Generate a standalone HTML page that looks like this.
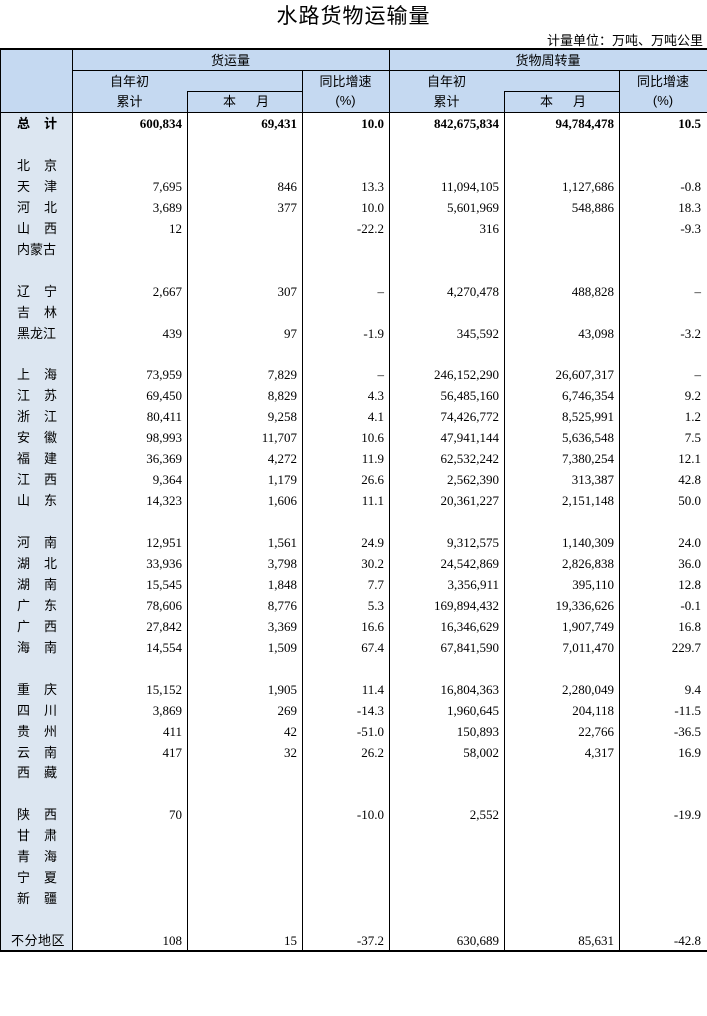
<!DOCTYPE html>
<html><head><meta charset="utf-8">
<style>
*{margin:0;padding:0;box-sizing:border-box}
html,body{width:707px;height:1016px;background:#fff;overflow:hidden}
body{position:relative;font-family:"Liberation Sans","Noto Sans CJK SC",sans-serif;color:#000}
.abs{position:absolute}
.hbg{position:absolute;background:#c5d9f1}
.cbg{position:absolute;background:#dce6f1}
.ln{position:absolute;background:#000}
.t{position:absolute;font-size:13px;line-height:20px;white-space:nowrap;font-family:"Liberation Sans","Noto Sans CJK SC",sans-serif}
.ctr{text-align:center}
.r{position:absolute;left:0;width:707px;height:21px;line-height:21px;font-size:13px}
.r span{position:absolute;top:0;white-space:nowrap}
.r .a{left:17px;font-family:"Liberation Sans","Noto Sans CJK SC",sans-serif}
.r .b{left:44px;font-family:"Liberation Sans","Noto Sans CJK SC",sans-serif}
.r .c3l{left:17px;font-family:"Liberation Sans","Noto Sans CJK SC",sans-serif}
.r .c4l{left:11px;letter-spacing:0.5px;font-family:"Liberation Sans","Noto Sans CJK SC",sans-serif}
.r .v2,.r .v3,.r .v4,.r .v5,.r .v6,.r .v7{font-family:"Liberation Serif",serif;font-size:13px;text-align:right}
.r .v2{right:525px}
.r .v3{right:410px}
.r .v4{right:323px}
.r .v5{right:208px}
.r .v6{right:93px}
.r .v7{right:6px}
.bold span{font-weight:bold}
</style></head><body>

<div class="t ctr" style="left:0;width:707px;top:4px;font-size:21px;line-height:26px;letter-spacing:1px">水路货物运输量</div>
<div class="t" style="right:4px;top:31px;">计量单位：万吨、万吨公里</div>

<!-- backgrounds -->
<div class="hbg" style="left:0;top:50px;width:707px;height:62px"></div>
<div class="cbg" style="left:0;top:113px;width:72px;height:838px"></div>

<!-- lines -->
<div class="ln" style="left:0;top:48px;width:707px;height:2px"></div>
<div class="ln" style="left:72px;top:70px;width:635px;height:1px"></div>
<div class="ln" style="left:187px;top:91px;width:116px;height:1px"></div>
<div class="ln" style="left:504px;top:91px;width:116px;height:1px"></div>
<div class="ln" style="left:0;top:112px;width:707px;height:1px"></div>
<div class="ln" style="left:0;top:950px;width:707px;height:2px"></div>

<div class="ln" style="left:0;top:50px;width:1px;height:901px"></div>
<div class="ln" style="left:72px;top:50px;width:1px;height:901px"></div>
<div class="ln" style="left:187px;top:91px;width:1px;height:860px"></div>
<div class="ln" style="left:302px;top:70px;width:1px;height:881px"></div>
<div class="ln" style="left:389px;top:50px;width:1px;height:901px"></div>
<div class="ln" style="left:504px;top:91px;width:1px;height:860px"></div>
<div class="ln" style="left:619px;top:70px;width:1px;height:881px"></div>

<!-- header text -->
<div class="t ctr" style="left:72px;width:317px;top:51px">货运量</div>
<div class="t ctr" style="left:389px;width:318px;top:51px">货物周转量</div>

<div class="t ctr" style="left:72px;width:115px;top:72px">自年初</div>
<div class="t ctr" style="left:72px;width:115px;top:92px">累计</div>
<div class="t" style="left:223px;top:92px">本</div>
<div class="t" style="left:256px;top:92px">月</div>
<div class="t ctr" style="left:302px;width:87px;top:72px">同比增速</div>
<div class="t ctr" style="left:302px;width:87px;top:91px">(%)</div>

<div class="t ctr" style="left:389px;width:115px;top:72px">自年初</div>
<div class="t ctr" style="left:389px;width:115px;top:92px">累计</div>
<div class="t" style="left:478px;top:92px;left:478px"></div>
<div class="t" style="left:480px;top:92px;left:480px"></div>
<div class="t" style="left:540px;top:92px">本</div>
<div class="t" style="left:573px;top:92px">月</div>
<div class="t ctr" style="left:619px;width:88px;top:72px">同比增速</div>
<div class="t ctr" style="left:619px;width:88px;top:91px">(%)</div>

<!-- data rows -->
<div class="r bold" style="top:113px"><span class="a">总</span><span class="b">计</span><span class="v2">600,834</span><span class="v3">69,431</span><span class="v4">10.0</span><span class="v5">842,675,834</span><span class="v6">94,784,478</span><span class="v7">10.5</span></div>

<div class="r" style="top:154.9px"><span class="a">北</span><span class="b">京</span></div>
<div class="r" style="top:175.85px"><span class="a">天</span><span class="b">津</span><span class="v2">7,695</span><span class="v3">846</span><span class="v4">13.3</span><span class="v5">11,094,105</span><span class="v6">1,127,686</span><span class="v7">-0.8</span></div>
<div class="r" style="top:196.8px"><span class="a">河</span><span class="b">北</span><span class="v2">3,689</span><span class="v3">377</span><span class="v4">10.0</span><span class="v5">5,601,969</span><span class="v6">548,886</span><span class="v7">18.3</span></div>
<div class="r" style="top:217.75px"><span class="a">山</span><span class="b">西</span><span class="v2">12</span><span class="v4">-22.2</span><span class="v5">316</span><span class="v7">-9.3</span></div>
<div class="r" style="top:238.7px"><span class="c3l">内蒙古</span></div>

<div class="r" style="top:280.6px"><span class="a">辽</span><span class="b">宁</span><span class="v2">2,667</span><span class="v3">307</span><span class="v4">–</span><span class="v5">4,270,478</span><span class="v6">488,828</span><span class="v7">–</span></div>
<div class="r" style="top:301.55px"><span class="a">吉</span><span class="b">林</span></div>
<div class="r" style="top:322.5px"><span class="c3l">黑龙江</span><span class="v2">439</span><span class="v3">97</span><span class="v4">-1.9</span><span class="v5">345,592</span><span class="v6">43,098</span><span class="v7">-3.2</span></div>

<div class="r" style="top:364.4px"><span class="a">上</span><span class="b">海</span><span class="v2">73,959</span><span class="v3">7,829</span><span class="v4">–</span><span class="v5">246,152,290</span><span class="v6">26,607,317</span><span class="v7">–</span></div>
<div class="r" style="top:385.35px"><span class="a">江</span><span class="b">苏</span><span class="v2">69,450</span><span class="v3">8,829</span><span class="v4">4.3</span><span class="v5">56,485,160</span><span class="v6">6,746,354</span><span class="v7">9.2</span></div>
<div class="r" style="top:406.3px"><span class="a">浙</span><span class="b">江</span><span class="v2">80,411</span><span class="v3">9,258</span><span class="v4">4.1</span><span class="v5">74,426,772</span><span class="v6">8,525,991</span><span class="v7">1.2</span></div>
<div class="r" style="top:427.25px"><span class="a">安</span><span class="b">徽</span><span class="v2">98,993</span><span class="v3">11,707</span><span class="v4">10.6</span><span class="v5">47,941,144</span><span class="v6">5,636,548</span><span class="v7">7.5</span></div>
<div class="r" style="top:448.2px"><span class="a">福</span><span class="b">建</span><span class="v2">36,369</span><span class="v3">4,272</span><span class="v4">11.9</span><span class="v5">62,532,242</span><span class="v6">7,380,254</span><span class="v7">12.1</span></div>
<div class="r" style="top:469.15px"><span class="a">江</span><span class="b">西</span><span class="v2">9,364</span><span class="v3">1,179</span><span class="v4">26.6</span><span class="v5">2,562,390</span><span class="v6">313,387</span><span class="v7">42.8</span></div>
<div class="r" style="top:490.1px"><span class="a">山</span><span class="b">东</span><span class="v2">14,323</span><span class="v3">1,606</span><span class="v4">11.1</span><span class="v5">20,361,227</span><span class="v6">2,151,148</span><span class="v7">50.0</span></div>

<div class="r" style="top:532px"><span class="a">河</span><span class="b">南</span><span class="v2">12,951</span><span class="v3">1,561</span><span class="v4">24.9</span><span class="v5">9,312,575</span><span class="v6">1,140,309</span><span class="v7">24.0</span></div>
<div class="r" style="top:552.95px"><span class="a">湖</span><span class="b">北</span><span class="v2">33,936</span><span class="v3">3,798</span><span class="v4">30.2</span><span class="v5">24,542,869</span><span class="v6">2,826,838</span><span class="v7">36.0</span></div>
<div class="r" style="top:573.9px"><span class="a">湖</span><span class="b">南</span><span class="v2">15,545</span><span class="v3">1,848</span><span class="v4">7.7</span><span class="v5">3,356,911</span><span class="v6">395,110</span><span class="v7">12.8</span></div>
<div class="r" style="top:594.85px"><span class="a">广</span><span class="b">东</span><span class="v2">78,606</span><span class="v3">8,776</span><span class="v4">5.3</span><span class="v5">169,894,432</span><span class="v6">19,336,626</span><span class="v7">-0.1</span></div>
<div class="r" style="top:615.8px"><span class="a">广</span><span class="b">西</span><span class="v2">27,842</span><span class="v3">3,369</span><span class="v4">16.6</span><span class="v5">16,346,629</span><span class="v6">1,907,749</span><span class="v7">16.8</span></div>
<div class="r" style="top:636.75px"><span class="a">海</span><span class="b">南</span><span class="v2">14,554</span><span class="v3">1,509</span><span class="v4">67.4</span><span class="v5">67,841,590</span><span class="v6">7,011,470</span><span class="v7">229.7</span></div>

<div class="r" style="top:678.65px"><span class="a">重</span><span class="b">庆</span><span class="v2">15,152</span><span class="v3">1,905</span><span class="v4">11.4</span><span class="v5">16,804,363</span><span class="v6">2,280,049</span><span class="v7">9.4</span></div>
<div class="r" style="top:699.6px"><span class="a">四</span><span class="b">川</span><span class="v2">3,869</span><span class="v3">269</span><span class="v4">-14.3</span><span class="v5">1,960,645</span><span class="v6">204,118</span><span class="v7">-11.5</span></div>
<div class="r" style="top:720.55px"><span class="a">贵</span><span class="b">州</span><span class="v2">411</span><span class="v3">42</span><span class="v4">-51.0</span><span class="v5">150,893</span><span class="v6">22,766</span><span class="v7">-36.5</span></div>
<div class="r" style="top:741.5px"><span class="a">云</span><span class="b">南</span><span class="v2">417</span><span class="v3">32</span><span class="v4">26.2</span><span class="v5">58,002</span><span class="v6">4,317</span><span class="v7">16.9</span></div>
<div class="r" style="top:762.45px"><span class="a">西</span><span class="b">藏</span></div>

<div class="r" style="top:804.35px"><span class="a">陕</span><span class="b">西</span><span class="v2">70</span><span class="v4">-10.0</span><span class="v5">2,552</span><span class="v7">-19.9</span></div>
<div class="r" style="top:825.3px"><span class="a">甘</span><span class="b">肃</span></div>
<div class="r" style="top:846.25px"><span class="a">青</span><span class="b">海</span></div>
<div class="r" style="top:867.2px"><span class="a">宁</span><span class="b">夏</span></div>
<div class="r" style="top:888.15px"><span class="a">新</span><span class="b">疆</span></div>

<div class="r" style="top:930.05px"><span class="c4l">不分地区</span><span class="v2">108</span><span class="v3">15</span><span class="v4">-37.2</span><span class="v5">630,689</span><span class="v6">85,631</span><span class="v7">-42.8</span></div>

</body></html>
